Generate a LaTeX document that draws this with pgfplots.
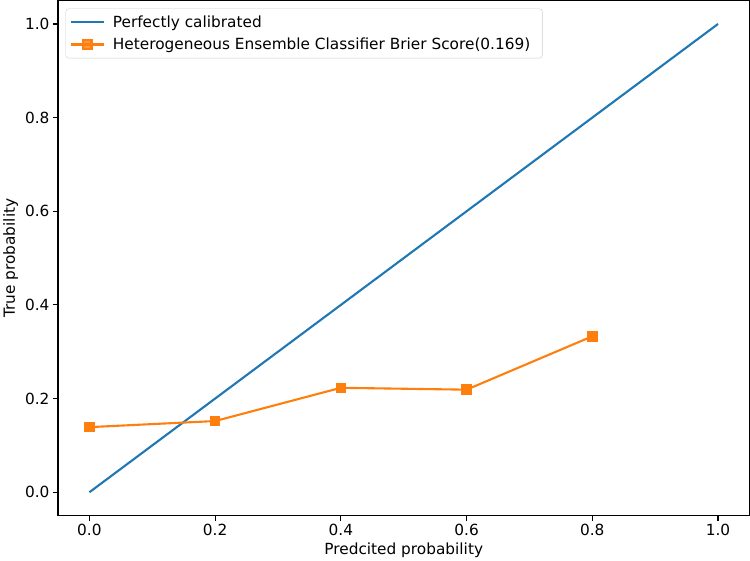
\documentclass[border=0pt]{standalone}
\usepackage{fontspec}
\setmainfont{DejaVu Sans}
\usepackage{pgfplots}
\pgfplotsset{compat=1.18}
\definecolor{mplblue}{HTML}{1F77B4}
\definecolor{mplorange}{HTML}{FF7F0E}

\begin{document}
\begin{tikzpicture}
\begin{axis}[
    width=690pt,
    height=514pt,
    scale only axis,
    xmin=-0.05, xmax=1.05,
    ymin=-0.05, ymax=1.05,
    xtick={0,0.2,0.4,0.6,0.8,1.0},
    ytick={0,0.2,0.4,0.6,0.8,1.0},
    tick label style={/pgf/number format/fixed, /pgf/number format/fixed zerofill,
        /pgf/number format/precision=1, /pgf/number format/assume math mode=true},
    tick align=outside,
    tick pos=left,
    major tick length=5pt,
    tick style={black, line width=1.1pt},
    axis line style={line width=1.1pt},
    font=\fontsize{15.3}{18}\selectfont,
    xlabel={Predcited probability},
    ylabel={True probability},
    legend cell align=left,
    legend style={at={(0,1)}, anchor=north west, xshift=7.5pt, yshift=-8pt,
        draw=black!20, rounded corners=3pt, fill=white, fill opacity=0.8, text opacity=1,
        font=\fontsize{15.3}{18}\selectfont, row sep=5pt, inner xsep=4pt, inner ysep=5pt,
        nodes={inner xsep=8pt}},
    legend image code/.code={\draw[mark repeat=2,mark phase=2,#1] plot coordinates {(0pt,0pt) (16.5pt,0pt) (33pt,0pt)};},
]
\addplot[mplblue, line width=2.1pt] coordinates {(0,0) (1,1)};
\addlegendentry{Perfectly calibrated}
\addplot[mplorange, line width=2.1pt, mark=square*, mark size=4.2pt, mark options={solid}] coordinates {
    (0.0,0.139)
    (0.2,0.152)
    (0.4,0.223)
    (0.6,0.219)
    (0.8,0.333)
};
\addlegendentry{Heterogeneous Ensemble Classifier Brier Score(0.169)}
\end{axis}
\end{tikzpicture}
\end{document}
